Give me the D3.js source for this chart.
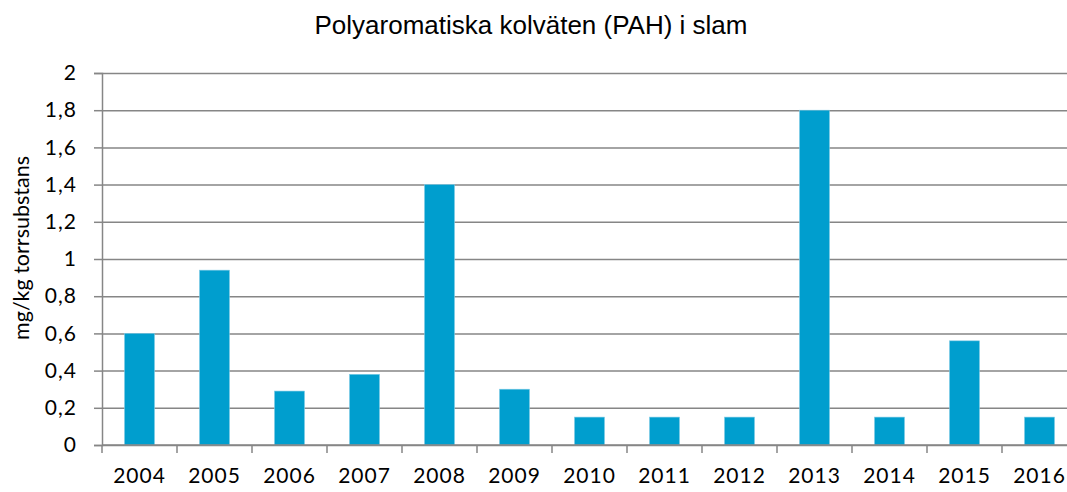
<!DOCTYPE html>
<meta charset="utf-8">
<head>
<script src="https://d3js.org/d3.v7.min.js"></script>
<style>
body { margin: 0; background: #fff; }
.axis text { font: 21px Lato, "Open Sans", sans-serif; letter-spacing: 1px; fill: #000; }
.grid line { stroke: #868686; stroke-width: 1.5; }
.grid path { stroke-width: 0; }
</style>
</head>
<body>
<script>

// data
var years = ["2004","2005","2006","2007","2008","2009","2010","2011","2012","2013","2014","2015","2016"];
var pah = [0.6, 0.94, 0.29, 0.38, 1.4, 0.3, 0.15, 0.15, 0.15, 1.8, 0.15, 0.56, 0.15];
var yTicks = [0, 0.2, 0.4, 0.6, 0.8, 1, 1.2, 1.4, 1.6, 1.8, 2];

var margin = {top: 73, left: 102},
    width = 975,
    height = 372;

var svg = d3.select("body").append("svg")
    .attr("width", 1067)
    .attr("height", 492);

var g = svg.append("g")
    .attr("transform", "translate(" + margin.left + "," + margin.top + ")");

var x = d3.scaleBand().domain(years).range([0, width]).paddingInner(0.6).paddingOuter(0.3);
var xTick = d3.scaleBand().domain(years).range([0, width]);
var y = d3.scaleLinear().domain([0, 2]).range([height, 0]);

// gridlines
g.append("g")
    .attr("class", "grid")
    .call(d3.axisLeft(y).tickValues(yTicks).tickSize(-width).tickFormat(""));

// bars
g.selectAll(".bar")
    .data(pah)
    .enter().append("rect")
    .attr("class", "bar")
    .attr("x", function(d, i) { return x(years[i]); })
    .attr("width", x.bandwidth())
    .attr("y", function(d) { return y(d); })
    .attr("height", function(d) { return height - y(d); })
    .attr("fill", "#009ECE")
    .attr("stroke", "#7fcbe6")
    .attr("stroke-width", 0.6);

// y axis
var ya = g.append("g")
    .attr("class", "axis")
    .call(d3.axisLeft(y).tickValues(yTicks).tickSize(8).tickPadding(17)
        .tickFormat(function(d) { return d3.format("~g")(d).replace(".", ","); }));
ya.selectAll("line").attr("stroke", "#868686").attr("stroke-width", 1.5);
ya.select(".domain").attr("stroke", "#868686").attr("stroke-width", 1.5);

// x axis, ticks between categories
var xa = g.append("g")
    .attr("class", "axis")
    .attr("transform", "translate(0," + height + ")");
xa.append("line")
    .attr("x1", 0).attr("x2", width)
    .attr("stroke", "#868686").attr("stroke-width", 1.5);
xa.selectAll(".tk")
    .data(years)
    .enter().append("line")
    .attr("x1", function(d) { return xTick(d); })
    .attr("x2", function(d) { return xTick(d); })
    .attr("y1", 0).attr("y2", 8)
    .attr("stroke", "#868686").attr("stroke-width", 1.5);
xa.selectAll(".lbl")
    .data(years)
    .enter().append("text")
    .attr("x", function(d) { return xTick(d) + xTick.bandwidth() / 2; })
    .attr("y", 38)
    .attr("text-anchor", "middle")
    .text(function(d) { return d; });

// y label
svg.append("text")
    .attr("transform", "translate(29,248) rotate(-90)")
    .attr("text-anchor", "middle")
    .style("font", "21.5px Lato, 'Open Sans', sans-serif")
    .text("mg/kg torrsubstans");

// title
svg.append("text")
    .attr("x", 531)
    .attr("y", 34)
    .attr("text-anchor", "middle")
    .style("font", "26px 'Liberation Sans', Arial, sans-serif")
    .text("Polyaromatiska kolväten (PAH) i slam");

</script>
</body>
